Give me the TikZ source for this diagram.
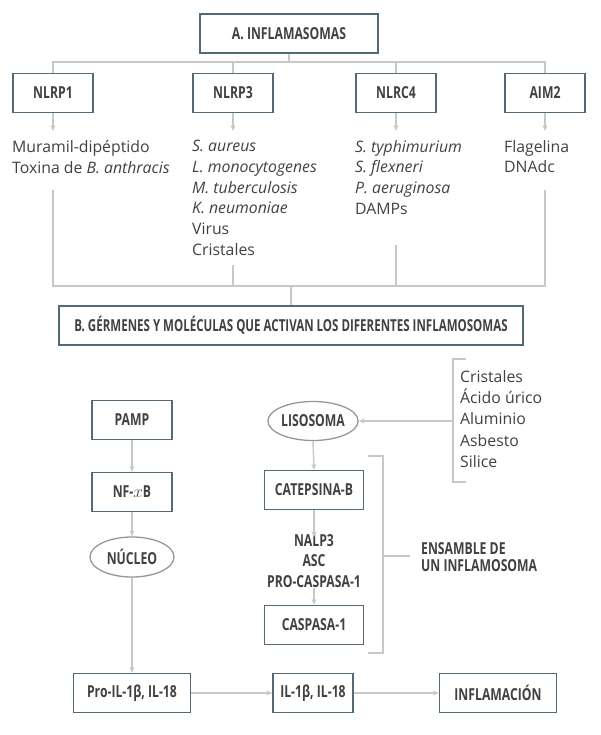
\documentclass[tikz,border=0pt]{standalone}
\usepackage{fontspec}
\setmainfont{Open Sans}
\newfontfamily\labfont{Open Sans}[FakeStretch=0.74]
\newfontfamily\labfontB{Open Sans}[FakeStretch=0.70]
\usetikzlibrary{arrows.meta,shapes.geometric}
\definecolor{boxc}{HTML}{52697A}
\definecolor{ellc}{HTML}{8E9A97}
\definecolor{txtc}{HTML}{414042}
\definecolor{linec}{HTML}{C8C8C8}
\begin{document}
\begin{tikzpicture}[x=1pt,y=-1pt,
 lab/.style={font=\labfont\bfseries\fontsize{16.5}{18}\selectfont, text=txtc},
 box/.style={lab, draw=boxc, line width=1.4pt, fill=white, inner sep=0pt, minimum height=39pt},
 ell/.style={lab, ellipse, draw=ellc, line width=1.3pt, inner sep=0pt, minimum width=84pt, minimum height=39pt},
 conn/.style={draw=linec, line width=1.4pt},
 arr/.style={conn, -{Stealth[length=6pt,width=5pt]}},
 lst/.style={font=\fontsize{15.8}{20.7}\selectfont, text=txtc, align=left, anchor=north west, inner sep=0pt},
]
\useasboundingbox (0,0) rectangle (600,735);
% top part
\node[box, minimum width=178pt] (A) at (289,33.5) {A. INFLAMASOMAS};
\node[box, minimum width=80pt] (n1) at (53,93) {NLRP1};
\node[box, minimum width=80pt] (n3) at (233,93) {NLRP3};
\node[box, minimum width=80pt] (n4) at (396,93) {NLRC4};
\node[box, minimum width=80pt] (n5) at (545,93) {AIM2};
\coordinate (busA) at (289,62);
\draw[conn] (A.south) -- (busA);
\draw[conn] (n1.north) -- (n1.north |- busA) -- (n5.north |- busA) -- (n5.north);
\draw[conn] (n3.north) -- (n3.north |- busA);
\draw[conn] (n4.north) -- (n4.north |- busA);
\coordinate (t1) at (53,131);
\coordinate (t3) at (233,131);
\coordinate (t4) at (396,131);
\coordinate (t5) at (545,131);
\draw[arr] (n1.south) -- (t1);
\draw[arr] (n3.south) -- (t3);
\draw[arr] (n4.south) -- (t4);
\draw[arr] (n5.south) -- (t5);
\node[lst] (l1) at (12,140) {Muramil-dipéptido\\Toxina de \textit{B. anthracis}};
\node[lst] (l3) at (192,140) {\textit{S. aureus}\\\textit{L. monocytogenes}\\\textit{M. tuberculosis}\\\textit{K. neumoniae}\\Virus\\Cristales};
\node[lst] (l4) at (355,140) {\textit{S. typhimurium}\\\textit{S. flexneri}\\\textit{P. aeruginosa}\\DAMPs};
\node[lst] (l5) at (504,140) {Flagelina\\DNAdc};
\node[box, minimum width=464pt, font=\labfontB\bfseries\fontsize{16.5}{18}\selectfont] (B) at (291,325.5) {B. GÉRMENES Y MOLÉCULAS QUE ACTIVAN LOS DIFERENTES INFLAMOSOMAS};
\coordinate (busB) at (291,286);
\coordinate (s1) at (53,190);
\coordinate (s3) at (233,265);
\coordinate (s4) at (396,245);
\coordinate (s5) at (545,190);
\draw[conn] (s1) -- (s1 |- busB) -- (s5 |- busB) -- (s5);
\draw[conn] (s3) -- (s3 |- busB);
\draw[conn] (s4) -- (s4 |- busB);
\draw[conn] (B.north) -- (busB);
% bottom part
\node[box, minimum width=80pt] (pamp) at (132,420) {PAMP};
\node[box, minimum width=80pt] (nf) at (132,492) {NF-$x$B};
\node[ell, minimum width=84pt, minimum height=40pt] (nuc) at (132,557) {NÚCLEO};
\node[box, minimum width=117pt] (pro) at (132,693) {Pro-IL-1β, IL-18};
\node[box, minimum width=80pt] (il) at (313,693) {IL-1β, IL-18};
\node[box, minimum width=117pt] (inf) at (498,693) {INFLAMACIÓN};
\node[ell] (lis) at (313,421) {LISOSOMA};
\node[box, minimum width=99pt] (cat) at (314,490) {CATEPSINA-B};
\node[lab, align=center, inner sep=0pt, font=\labfont\bfseries\fontsize{16.5}{20.5}\selectfont] (nalp) at (314,561) {NALP3\\ASC\\PRO-CASPASA-1};
\node[box, minimum width=99pt] (casp) at (314,625) {CASPASA-1};
\draw[arr] (pamp.south) -- (nf.north);
\draw[arr] (nf.south) -- (nuc.north);
\draw[arr] (nuc.south) -- (pro.north);
\draw[arr] (lis.south) -- (cat.north);
\draw[arr] (cat.south) -- ([yshift=-3pt]nalp.north);
\draw[arr] (nalp.south) -- (casp.north);
\draw[arr] (pro.east) -- (il.west);
\draw[arr] (il.east) -- (inf.west);
% bracket ensamble
\draw[conn] (368,456) -- (383,456) -- (383,653) -- (368,653);
\coordinate (em) at (383,556);
\node[lab, align=left, anchor=west, inner sep=0pt, font=\labfont\bfseries\fontsize{16.5}{17.5}\selectfont] (ens) at (421,557) {ENSAMBLE DE\\UN INFLAMOSOMA};
\draw[conn] (em) -- ([xshift=-11pt]ens.west |- em);
% bracket list
\draw[conn] (466,359) -- (453,359) -- (453,482) -- (466,482);
\coordinate (lm) at (453,421);
\draw[arr] (lm) -- (lis.east);
\node[lst, font=\fontsize{15.8}{21.3}\selectfont] (l6) at (460,370) {Cristales\\Ácido úrico\\Aluminio\\Asbesto\\Silice};
\end{tikzpicture}
\end{document}
